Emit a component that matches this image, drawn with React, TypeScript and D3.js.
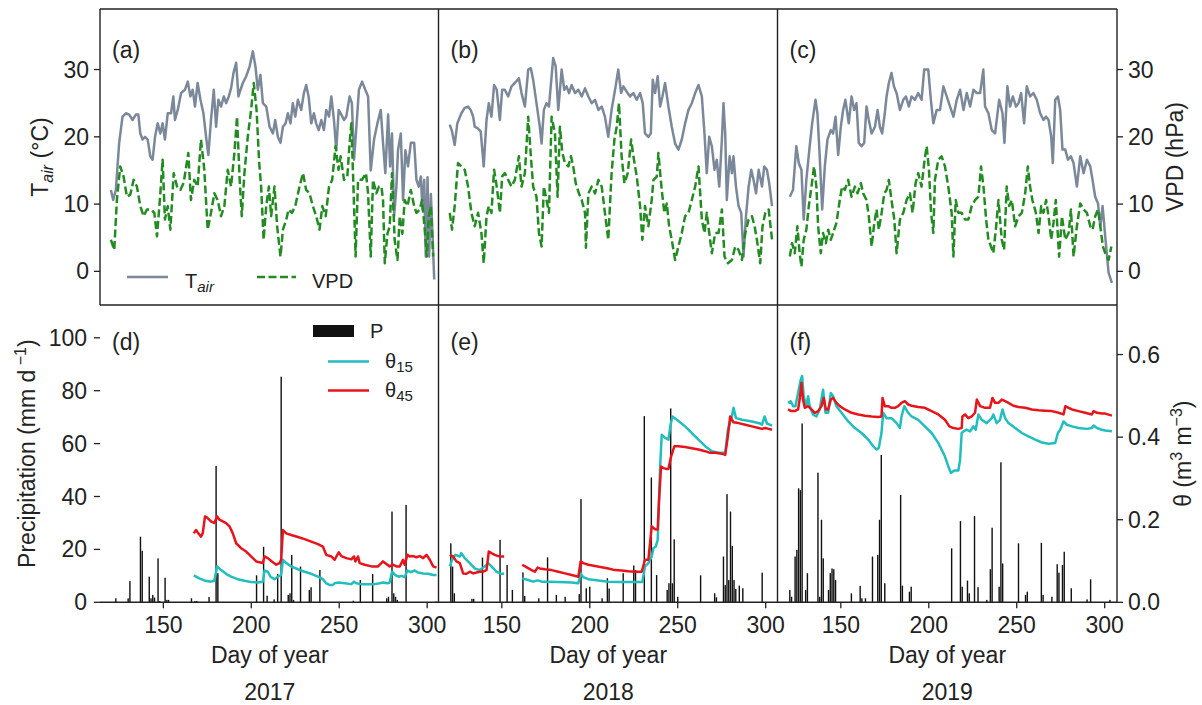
import React from 'react';
import * as d3 from 'd3';

type P = [number, number];

// ---------- labels / ticks ----------
const years = ['2017', '2018', '2019'];
const topLabels = ['(a)', '(b)', '(c)'];
const bottomLabels = ['(d)', '(e)', '(f)'];
const tempTicks = [0, 10, 20, 30];
const precipTicks = [0, 20, 40, 60, 80, 100];
const thetaTicks = [0, 0.2, 0.4, 0.6];
const dayTicks = [150, 200, 250, 300];

// ---------- air temperature (°C) [day, value] ----------
const tair2017: P[] = [[120.2,12.1],[121.5,10.6],[123.0,12.1],[124.9,19.1],[126.8,23.0],[128.7,23.5],[130.6,23.3],[132.5,22.5],[134.4,23.3],[135.8,23.3],[136.9,20.5],[138.2,19.6],[139.6,20.0],[141.1,19.6],[142.6,17.1],[143.9,16.6],[145.3,20.0],[146.8,22.0],[148.3,20.5],[149.6,22.0],[150.9,19.6],[152.5,23.5],[154.4,23.5],[155.7,26.0],[156.6,22.5],[158.2,24.0],[160.1,26.5],[162.3,27.0],[163.9,28.2],[165.4,26.0],[166.7,27.0],[168.0,24.5],[169.5,28.0],[171.1,25.5],[172.8,23.5],[174.3,20.0],[175.6,17.3],[177.1,22.5],[178.7,27.0],[180.0,21.5],[181.3,25.5],[182.8,24.5],[184.4,26.0],[185.7,25.0],[187.2,26.0],[188.5,27.2],[189.9,29.5],[191.4,31.0],[192.7,26.0],[193.9,27.0],[195.2,28.0],[197.1,29.0],[199.0,30.4],[200.9,32.7],[202.4,30.4],[203.7,27.0],[205.2,29.2],[206.6,25.0],[208.5,24.5],[210.4,21.5],[212.3,20.5],[213.6,22.5],[215.1,20.0],[216.6,19.1],[218.0,21.5],[219.5,22.0],[220.8,23.5],[222.3,22.0],[223.6,25.0],[225.0,23.0],[226.5,25.5],[228.4,24.0],[229.9,26.5],[231.2,27.7],[232.6,26.0],[234.1,22.0],[235.6,23.5],[236.9,22.0],[238.3,21.0],[239.8,22.5],[241.3,21.0],[242.6,24.0],[244.2,23.0],[245.5,26.0],[247.0,22.5],[248.3,18.0],[249.7,24.0],[251.2,23.3],[252.7,22.5],[254.0,23.0],[255.9,26.0],[257.2,25.0],[258.4,16.6],[259.9,22.0],[261.2,27.0],[263.0,28.2],[264.8,27.0],[266.4,26.0],[267.9,15.0],[269.8,19.6],[271.7,22.0],[273.6,24.0],[274.9,19.1],[276.2,14.6],[277.8,23.3],[278.9,15.6],[280.0,20.5],[281.2,8.2],[282.5,12.6],[283.4,18.0],[285.0,20.5],[286.3,10.6],[287.6,18.0],[289.1,15.6],[290.7,19.1],[292.6,19.1],[293.9,13.6],[295.2,12.6],[296.4,14.1],[297.3,9.2],[298.3,13.6],[299.2,2.2],[300.2,14.0],[301.1,2.2],[302.1,11.5],[303.0,5.6],[304.0,-1.2]];
const tair2018: P[] = [[120.4,21.8],[121.7,20.8],[123.2,18.8],[124.7,22.0],[127.0,23.5],[128.9,24.3],[130.8,24.5],[132.3,24.0],[133.7,23.0],[134.6,21.5],[136.1,21.3],[138.0,20.8],[139.7,15.6],[141.3,22.5],[142.6,25.0],[144.1,23.0],[145.6,27.7],[147.1,27.0],[148.9,22.5],[150.2,27.0],[151.7,27.0],[153.6,26.0],[155.5,27.5],[157.4,28.0],[159.7,28.7],[161.2,26.5],[163.1,24.5],[165.0,30.0],[166.5,30.2],[167.8,28.5],[169.7,25.0],[171.6,21.5],[172.6,19.0],[173.9,24.0],[175.4,25.0],[176.8,24.5],[179.2,31.7],[180.6,30.5],[182.1,24.0],[184.0,30.0],[185.5,27.0],[186.8,27.5],[188.2,26.5],[189.7,27.7],[191.6,26.5],[193.5,27.0],[195.4,26.0],[197.3,27.2],[199.2,26.0],[201.1,25.0],[203.0,25.5],[204.9,24.0],[206.8,24.5],[208.6,23.0],[210.5,20.0],[212.4,24.0],[214.7,27.5],[216.2,30.0],[217.8,26.5],[219.1,27.5],[221.0,26.7],[222.9,26.0],[224.8,26.5],[226.7,25.5],[228.6,26.5],[230.1,25.0],[231.4,20.5],[233.3,20.0],[234.7,20.5],[235.8,28.5],[237.1,26.5],[238.6,29.0],[240.0,24.5],[241.3,26.0],[242.8,28.0],[244.7,24.5],[246.6,21.5],[248.5,19.0],[250.4,18.1],[252.3,19.6],[254.2,22.0],[256.1,24.0],[258.0,25.0],[259.9,26.5],[261.8,27.7],[263.7,26.0],[265.2,20.5],[266.5,14.6],[267.9,20.0],[269.4,18.6],[270.9,15.1],[272.2,16.6],[273.6,12.6],[275.1,19.6],[276.0,25.0],[277.0,20.5],[277.9,10.6],[279.5,17.1],[280.8,14.6],[281.7,17.1],[283.1,12.6],[284.6,9.7],[286.1,8.7],[287.4,2.2],[288.8,8.2],[290.3,12.6],[291.8,15.1],[293.1,13.6],[294.5,11.6],[296.0,15.1],[297.9,12.6],[299.2,15.6],[300.7,15.1],[302.0,13.1],[303.6,9.7]];
const tair2019: P[] = [[121.0,11.1],[122.8,12.1],[124.7,18.6],[126.1,16.1],[127.6,15.1],[128.9,7.7],[130.4,13.6],[132.3,18.6],[133.7,22.0],[135.6,25.5],[136.7,23.5],[138.0,17.1],[139.4,9.2],[140.9,15.6],[142.4,19.6],[144.3,21.0],[145.6,20.5],[147.0,23.0],[148.5,17.3],[150.0,21.5],[151.3,24.0],[152.6,25.5],[154.5,22.0],[156.1,26.0],[157.6,24.0],[158.9,25.0],[160.2,19.1],[161.8,18.6],[163.3,19.1],[164.6,24.5],[165.9,22.5],[167.5,20.5],[169.4,21.5],[170.9,24.0],[172.2,21.5],[173.5,20.5],[175.0,23.5],[176.0,26.0],[177.3,28.0],[178.8,29.5],[180.2,27.5],[181.7,26.5],[183.6,24.0],[185.5,25.5],[187.0,26.0],[188.7,24.5],[190.2,26.0],[192.1,25.5],[194.0,26.5],[195.9,25.5],[197.4,30.0],[199.7,30.0],[201.2,25.5],[202.6,22.0],[204.5,24.0],[206.4,24.0],[208.3,27.5],[210.2,26.0],[212.1,24.5],[214.0,23.0],[215.9,25.5],[217.8,27.0],[219.7,24.0],[221.6,26.5],[223.5,24.5],[225.4,27.0],[227.3,26.5],[229.2,26.5],[231.0,30.0],[232.0,24.5],[233.9,23.5],[235.8,21.0],[237.7,20.5],[240.0,25.5],[241.9,23.5],[243.0,19.1],[244.7,27.5],[246.2,24.5],[247.8,26.0],[249.6,24.5],[251.0,25.0],[252.5,26.5],[254.2,22.0],[255.7,27.5],[257.6,26.0],[259.5,26.5],[261.4,25.5],[263.3,23.5],[265.2,22.5],[266.7,23.0],[268.1,22.5],[269.6,20.0],[270.5,16.1],[271.9,25.5],[273.4,26.0],[274.7,24.0],[276.0,18.1],[277.6,18.1],[279.1,16.6],[280.8,17.1],[282.3,16.1],[284.2,12.6],[286.1,17.1],[288.0,14.6],[289.9,16.6],[291.8,15.6],[293.1,13.6],[294.6,11.1],[296.2,10.1],[297.5,6.7],[298.8,9.7],[300.3,5.2],[302.2,-0.2],[304.1,-1.7]];

// ---------- vapour pressure deficit (hPa) [day, value] ----------
const vpd2017: P[] = [[120.2,4.7],[122.1,3.2],[123.6,10.6],[125.5,15.6],[127.4,14.1],[129.3,11.1],[131.2,11.4],[133.1,13.6],[135.0,12.6],[136.9,9.7],[138.8,8.2],[140.7,9.2],[143.0,9.2],[144.9,8.7],[146.4,5.2],[148.3,11.6],[149.6,16.6],[150.9,7.7],[152.5,9.7],[154.0,6.2],[155.9,14.6],[157.8,12.6],[159.7,12.1],[161.6,13.2],[164.2,17.6],[165.7,10.6],[167.6,13.6],[169.5,12.6],[171.4,19.6],[173.3,15.1],[175.2,6.2],[177.1,8.7],[179.0,11.6],[180.9,10.6],[182.8,8.2],[184.7,9.7],[186.6,15.1],[188.5,12.6],[190.4,17.6],[191.9,23.0],[193.3,14.1],[194.6,8.2],[196.1,14.6],[198.0,20.0],[199.9,24.0],[201.4,28.0],[203.0,24.0],[204.5,16.1],[205.6,12.6],[207.0,4.7],[208.5,9.7],[210.0,12.6],[211.3,8.2],[213.2,12.6],[214.7,6.7],[216.6,2.2],[218.0,6.2],[219.9,7.7],[221.2,9.2],[223.1,8.7],[225.0,9.7],[227.4,12.6],[229.4,14.6],[231.2,12.1],[233.1,11.6],[235.0,9.7],[236.9,8.2],[238.8,6.2],[240.4,9.7],[242.3,8.2],[244.2,12.6],[246.0,13.6],[247.9,18.6],[249.6,15.1],[250.8,17.1],[252.7,13.6],[254.6,14.1],[255.9,19.1],[256.9,22.0],[258.0,13.2],[259.3,2.2],[260.7,13.6],[262.9,13.6],[265.2,14.6],[266.4,11.6],[267.9,2.2],[269.2,13.6],[271.1,11.6],[272.6,12.6],[274.0,12.6],[274.9,10.6],[275.9,1.2],[277.4,5.6],[278.7,6.7],[280.0,14.6],[281.5,4.7],[283.1,1.7],[284.4,8.2],[285.9,5.6],[287.2,10.6],[288.8,9.7],[290.7,12.1],[292.6,9.7],[293.9,8.7],[295.8,9.2],[297.1,10.6],[298.6,6.2],[299.8,2.2],[300.9,8.2],[302.1,9.7],[303.4,2.2]];
const vpd2018: P[] = [[120.4,8.7],[121.7,6.2],[123.2,9.7],[125.1,16.1],[127.0,15.6],[128.9,15.1],[130.8,12.6],[132.7,8.7],[134.6,6.7],[136.5,8.7],[138.4,5.7],[139.7,1.2],[141.3,8.2],[142.6,9.7],[144.1,8.7],[145.6,15.1],[147.1,12.6],[148.9,8.7],[150.2,14.1],[151.7,14.6],[153.6,13.6],[155.5,12.6],[157.4,13.6],[159.7,17.1],[161.2,12.6],[163.1,14.6],[165.0,23.0],[166.5,17.1],[167.8,12.6],[169.7,11.1],[171.1,5.7],[172.6,3.7],[173.9,12.6],[175.4,10.6],[176.8,8.7],[178.3,23.0],[180.2,20.5],[181.7,11.1],[183.0,21.5],[184.4,17.6],[185.9,16.1],[187.8,15.6],[189.3,17.1],[190.6,15.6],[192.0,13.1],[193.8,11.6],[195.4,10.6],[197.3,8.7],[197.8,3.5],[199.2,11.6],[201.1,12.6],[203.0,11.6],[204.9,13.6],[206.8,12.6],[208.6,8.7],[210.5,4.7],[212.4,14.6],[214.0,19.6],[215.3,21.5],[216.6,25.0],[218.1,17.1],[219.7,13.1],[221.6,14.6],[223.5,19.6],[224.8,17.1],[226.7,14.1],[228.6,9.7],[229.9,4.7],[231.4,9.7],[233.3,6.7],[235.2,10.6],[236.2,13.6],[238.1,14.1],[239.0,17.6],[240.9,12.1],[242.4,8.7],[243.8,10.1],[245.1,6.7],[246.6,4.7],[248.5,1.7],[250.4,3.7],[252.3,5.7],[254.2,8.2],[256.1,8.7],[258.0,10.6],[259.9,12.6],[261.8,15.6],[263.7,7.7],[265.2,5.7],[266.5,8.7],[267.9,5.7],[269.4,2.7],[271.3,5.7],[273.2,5.7],[275.1,9.2],[276.6,2.2],[278.5,1.2],[280.8,1.7],[282.7,3.7],[284.6,3.2],[286.5,1.7],[288.4,5.7],[290.3,7.7],[292.2,8.2],[293.7,6.7],[295.0,4.7],[296.9,1.2],[298.2,6.7],[299.8,8.7],[301.7,9.2],[303.6,4.7]];
const vpd2019: P[] = [[121.0,2.2],[122.3,4.2],[123.8,2.7],[125.3,6.7],[126.6,2.7],[127.6,0.7],[128.9,4.7],[130.4,6.2],[131.8,9.7],[133.3,12.6],[134.8,15.6],[136.1,12.6],[137.1,6.7],[138.6,2.7],[139.9,5.7],[141.5,4.2],[142.8,6.2],[144.3,4.7],[145.6,5.7],[147.5,7.2],[149.4,10.6],[150.7,12.6],[152.3,12.1],[154.2,13.6],[156.1,11.1],[158.0,12.6],[159.5,11.6],[161.4,13.1],[162.7,11.6],[164.6,10.6],[165.9,8.2],[167.5,3.7],[168.8,6.7],[170.3,9.2],[171.6,6.2],[173.2,8.7],[174.7,11.6],[176.0,12.1],[177.3,13.6],[178.8,10.6],[180.4,7.7],[181.7,2.7],[183.6,7.7],[185.5,8.7],[187.4,10.6],[189.3,11.6],[190.8,8.7],[192.5,13.1],[194.0,14.6],[195.9,12.6],[197.4,16.1],[198.8,18.6],[200.1,15.1],[201.3,8.7],[202.6,5.7],[203.5,13.6],[205.4,16.6],[207.3,17.1],[209.2,15.6],[211.1,12.6],[213.0,8.7],[214.0,2.2],[215.3,10.6],[216.8,8.7],[218.7,8.7],[220.6,7.7],[222.5,7.7],[224.4,9.7],[226.3,10.6],[228.2,11.1],[229.7,15.6],[231.1,12.6],[232.6,7.7],[233.9,4.7],[235.4,3.7],[236.7,2.7],[238.3,6.7],[239.6,10.6],[241.5,4.7],[242.8,3.2],[244.3,12.6],[245.7,9.7],[247.2,10.6],[249.1,6.7],[251.0,8.2],[252.9,8.7],[254.8,11.6],[256.3,15.6],[257.6,12.6],[258.9,10.6],[260.9,8.7],[262.4,5.7],[263.9,9.7],[265.2,8.7],[266.7,10.6],[268.1,8.2],[269.6,4.7],[270.9,7.2],[272.2,10.6],[274.1,2.2],[275.7,8.2],[277.6,4.7],[279.5,5.7],[280.8,9.2],[282.3,2.2],[284.2,6.7],[286.1,10.1],[288.0,9.2],[289.9,8.7],[291.8,6.7],[293.1,6.2],[294.6,8.2],[296.2,9.2],[297.5,6.7],[299.0,3.7],[300.3,2.7],[302.2,1.7],[303.8,3.7]];

// ---------- precipitation (mm d-1) [day, value] ----------
const precip2017: P[] = [[123,1.5],[130,1.5],[131,8.0],[137,24.8],[138,19.5],[142,9.7],[143,1.5],[144,2.8],[145,1.8],[147,16.6],[148,0.5],[151,9.3],[152,0.9],[153,0.9],[166,1.5],[168,0.5],[169,0.5],[176,2.0],[180,51.6],[181,11.0],[203,10.2],[207,21.0],[209,2.5],[213,1.1],[215,10.7],[217,85.3],[221,2.8],[222,3.4],[223,17.9],[224,0.9],[228,13.5],[233,4.7],[234,5.7],[239,12.2],[258,0.6],[262,8.4],[269,10.7],[277,1.5],[278,2.1],[280,34.3],[281,3.4],[282,2.1],[283,0.9],[288,36.8],[305,0.3]];
const precip2018: P[] = [[121,22.3],[122,13.5],[123,3.4],[133,1.3],[134,1.3],[139,16.9],[149,23.6],[153,14.1],[156,4.7],[162,11.3],[163,2.4],[171,1.5],[176,17.0],[181,2.8],[186,2.1],[194,3.1],[195,39.0],[198,5.3],[200,5.9],[207,1.5],[210,9.1],[211,5.2],[219,11.0],[225,13.9],[226,12.2],[231,70.4],[235,47.2],[238,10.3],[244,4.7],[245,7.2],[246,73.3],[247,7.2],[248,23.8],[250,2.1],[263,10.2],[271,3.4],[272,1.9],[276,17.3],[277,6.5],[278,40.9],[279,8.4],[280,34.3],[281,21.3],[282,8.4],[283,5.0],[285,6.3],[287,5.3],[298,11.2]];
const precip2019: P[] = [[121,4.7],[122,2.1],[124,17.3],[125,19.8],[126,43.1],[127,42.4],[128,67.6],[130,4.7],[131,11.0],[137,49.0],[138,2.1],[139,31.2],[140,16.6],[143,4.7],[144,11.0],[145,12.8],[146,12.5],[147,8.4],[156,3.4],[161,6.2],[162,1.5],[164,1.5],[168,17.3],[171,17.9],[172,31.2],[173,55.7],[175,7.2],[184,40.6],[185,6.3],[189,4.0],[190,5.9],[213,20.4],[218,30.7],[219,5.9],[222,8.2],[223,3.4],[226,32.6],[228,5.7],[233,0.9],[235,12.5],[236,28.2],[240,5.9],[241,52.9],[242,14.7],[251,22.3],[255,2.8],[256,4.0],[264,22.5],[265,2.8],[270,2.1],[273,14.4],[274,11.2],[276,14.1],[277,19.1],[281,5.3],[290,1.1],[292,8.7],[303,0.9]];

// ---------- soil water content θ (m3 m-3) at 15 and 45 cm ----------
const theta15_2017: P[] = [[167.3,0.065],[170.5,0.058],[173.3,0.053],[177.1,0.050],[179.0,0.052],[180.6,0.087],[182.8,0.078],[185.7,0.069],[188.5,0.062],[192.3,0.056],[196.1,0.052],[199.9,0.049],[203.7,0.048],[206.6,0.050],[207.5,0.077],[209.4,0.074],[210.9,0.062],[213.2,0.056],[215.1,0.062],[217.0,0.066],[218.0,0.103],[219.9,0.095],[222.7,0.087],[226.5,0.080],[230.3,0.074],[234.1,0.069],[237.9,0.062],[240.7,0.056],[242.6,0.046],[244.5,0.042],[246.4,0.042],[247.4,0.046],[249.7,0.048],[253.1,0.046],[256.9,0.044],[258.4,0.050],[259.7,0.046],[262.6,0.044],[266.4,0.044],[270.2,0.044],[273.0,0.046],[274.9,0.048],[277.4,0.046],[278.7,0.048],[280.0,0.074],[281.9,0.066],[283.8,0.062],[285.3,0.064],[287.2,0.061],[288.8,0.077],[290.7,0.073],[292.9,0.077],[294.8,0.072],[297.7,0.070],[300.5,0.069],[303.4,0.066],[305.3,0.066]];
const theta45_2017: P[] = [[167.3,0.167],[168.6,0.175],[169.9,0.167],[171.4,0.159],[172.4,0.167],[173.7,0.208],[175.2,0.204],[177.1,0.196],[179.0,0.192],[180.6,0.208],[181.9,0.200],[183.8,0.196],[185.7,0.192],[187.6,0.184],[189.5,0.167],[191.4,0.143],[194.2,0.131],[197.1,0.123],[199.9,0.111],[202.8,0.099],[206.6,0.095],[207.5,0.111],[209.4,0.107],[211.7,0.099],[214.2,0.091],[216.1,0.095],[217.0,0.103],[218.0,0.175],[219.9,0.167],[222.7,0.163],[226.5,0.158],[230.3,0.153],[234.1,0.147],[237.9,0.141],[240.7,0.135],[242.6,0.115],[245.5,0.111],[247.4,0.103],[249.7,0.121],[251.2,0.112],[254.0,0.107],[256.9,0.104],[258.4,0.111],[259.2,0.099],[260.7,0.111],[261.6,0.095],[264.5,0.091],[268.3,0.087],[272.1,0.087],[274.9,0.099],[276.8,0.093],[278.7,0.087],[280.6,0.091],[282.5,0.087],[284.4,0.087],[286.3,0.103],[287.2,0.091],[288.8,0.115],[290.1,0.111],[292.0,0.112],[293.9,0.109],[295.8,0.112],[297.7,0.107],[299.6,0.115],[301.5,0.103],[303.4,0.087],[305.3,0.084]];
const theta15_2018: P[] = [[120.4,0.087],[121.7,0.103],[123.6,0.115],[126.1,0.111],[127.0,0.119],[128.9,0.107],[131.8,0.095],[134.6,0.082],[137.5,0.078],[140.3,0.087],[142.2,0.095],[144.1,0.087],[147.0,0.074],[149.8,0.069],[151.3,0.069],[156,NaN],[161.6,0.058],[165.0,0.054],[167.8,0.050],[170.3,0.053],[172.6,0.050],[176.4,0.050],[182.1,0.049],[189.7,0.048],[193.5,0.046],[194.8,0.070],[196.3,0.061],[199.2,0.056],[204.9,0.053],[210.5,0.050],[216.2,0.049],[221.9,0.049],[227.6,0.049],[229.9,0.049],[231.4,0.087],[233.3,0.095],[235.2,0.111],[236.2,0.131],[237.5,0.135],[238.6,0.151],[240.0,0.329],[240.9,0.406],[242.8,0.398],[244.7,0.394],[245.9,0.430],[247.0,0.450],[249.5,0.442],[254.2,0.426],[259.9,0.402],[265.6,0.378],[269.4,0.366],[273.2,0.362],[277.0,0.362],[278.5,0.418],[280.8,0.450],[281.7,0.471],[283.1,0.446],[286.5,0.442],[292.2,0.438],[296.9,0.433],[297.9,0.430],[299.4,0.450],[300.7,0.433],[303.6,0.428]];
const theta45_2018: P[] = [[120.4,0.115],[122.3,0.111],[124.2,0.099],[126.1,0.095],[128.0,0.070],[129.9,0.069],[131.8,0.074],[133.7,0.070],[135.6,0.072],[137.5,0.074],[139.4,0.074],[141.3,0.078],[142.6,0.123],[144.1,0.119],[146.0,0.115],[147.9,0.112],[149.8,0.111],[151.3,0.111],[156,NaN],[161.6,0.091],[164.0,0.085],[166.9,0.078],[168.8,0.074],[170.3,0.084],[171.6,0.082],[174.5,0.080],[178.3,0.078],[182.1,0.074],[185.9,0.070],[189.7,0.066],[193.5,0.062],[194.8,0.099],[196.3,0.095],[199.2,0.091],[203.0,0.088],[206.8,0.085],[210.5,0.082],[214.3,0.078],[218.1,0.077],[221.9,0.075],[225.7,0.074],[229.5,0.074],[231.4,0.103],[233.3,0.103],[235.2,0.184],[237.1,0.177],[238.6,0.176],[239.4,0.248],[240.5,0.329],[241.9,0.325],[243.8,0.323],[244.7,0.323],[246.2,0.353],[248.1,0.378],[250.4,0.378],[254.2,0.376],[258.0,0.373],[261.8,0.370],[265.6,0.366],[268.4,0.362],[271.3,0.362],[275.1,0.360],[277.0,0.357],[278.5,0.402],[279.8,0.450],[281.7,0.436],[284.6,0.434],[288.4,0.430],[292.2,0.426],[296.0,0.422],[297.9,0.420],[299.8,0.422],[301.7,0.420],[303.6,0.418]];
const theta15_2019: P[] = [[120.0,0.483],[121.5,0.487],[122.9,0.475],[124.2,0.475],[125.7,0.507],[127.2,0.539],[128.0,0.548],[128.9,0.499],[130.4,0.475],[131.4,0.499],[132.3,0.475],[134.2,0.455],[136.1,0.450],[138.0,0.467],[139.9,0.515],[141.3,0.459],[142.8,0.459],[144.3,0.507],[145.6,0.499],[147.5,0.475],[150.4,0.459],[154.2,0.438],[158.0,0.422],[161.8,0.410],[165.6,0.394],[168.4,0.378],[170.3,0.370],[171.6,0.374],[173.1,0.410],[174.1,0.459],[176.0,0.446],[178.8,0.446],[181.7,0.434],[183.6,0.422],[184.5,0.450],[186.1,0.475],[188.3,0.459],[190.2,0.450],[194.0,0.442],[197.8,0.426],[201.6,0.410],[205.4,0.386],[209.2,0.353],[211.1,0.329],[212.6,0.313],[214.5,0.319],[216.8,0.319],[217.8,0.345],[218.7,0.410],[219.7,0.414],[221.5,0.418],[223.5,0.414],[225.3,0.426],[226.7,0.418],[228.2,0.455],[230.1,0.442],[232.9,0.434],[235.8,0.446],[236.7,0.455],[238.6,0.434],[240.5,0.442],[241.9,0.467],[243.4,0.446],[245.3,0.434],[249.1,0.422],[252.9,0.410],[256.7,0.402],[260.5,0.394],[264.3,0.387],[268.1,0.384],[271.9,0.386],[273.4,0.410],[274.7,0.418],[276.6,0.438],[278.5,0.430],[281.4,0.426],[285.1,0.422],[289.9,0.420],[292.7,0.422],[293.7,0.428],[295.6,0.422],[298.4,0.418],[300.3,0.416],[304.1,0.414]];
const theta45_2019: P[] = [[120.0,0.467],[121.9,0.463],[123.8,0.463],[125.7,0.467],[126.6,0.491],[127.6,0.531],[128.5,0.491],[129.5,0.471],[131.4,0.475],[133.3,0.467],[135.2,0.459],[137.1,0.463],[139.0,0.475],[140.3,0.495],[141.5,0.467],[142.8,0.467],[144.3,0.491],[145.6,0.495],[147.5,0.483],[149.4,0.475],[152.3,0.467],[156.1,0.459],[159.9,0.455],[163.7,0.452],[167.5,0.450],[171.3,0.449],[173.1,0.450],[173.7,0.495],[175.0,0.475],[176.9,0.475],[178.8,0.471],[180.7,0.471],[182.6,0.475],[184.5,0.483],[186.4,0.487],[188.3,0.479],[190.2,0.476],[194.0,0.473],[197.8,0.471],[201.6,0.463],[205.4,0.455],[209.2,0.442],[211.7,0.426],[214.0,0.422],[216.8,0.420],[218.7,0.422],[219.1,0.450],[220.6,0.455],[222.5,0.446],[224.4,0.450],[226.3,0.459],[227.3,0.491],[229.2,0.475],[232.0,0.471],[234.8,0.471],[236.2,0.495],[237.7,0.483],[239.6,0.483],[241.5,0.491],[243.4,0.487],[245.3,0.483],[248.1,0.476],[251.0,0.473],[254.8,0.471],[258.6,0.467],[262.4,0.465],[266.2,0.464],[270.0,0.463],[273.8,0.459],[276.6,0.455],[277.6,0.475],[279.5,0.471],[281.4,0.467],[285.1,0.463],[288.9,0.459],[292.7,0.455],[293.7,0.463],[295.6,0.459],[298.4,0.457],[300.3,0.457],[304.1,0.452]];

const tairByYear = [tair2017, tair2018, tair2019];
const vpdByYear = [vpd2017, vpd2018, vpd2019];
const precipByYear = [precip2017, precip2018, precip2019];
const theta15ByYear = [theta15_2017, theta15_2018, theta15_2019];
const theta45ByYear = [theta45_2017, theta45_2018, theta45_2019];

// ---------- styling ----------
const C_TAIR = '#7a8899';
const C_VPD = '#228b22';
const C_T15 = '#22bdbd';
const C_T45 = '#e8141b';
const C_AX = '#222';
const FONT = "'Liberation Sans', Arial, Helvetica, sans-serif";
const FS = 23;
const FS_LEG = 20;

const PANEL_X = [100, 438.5, 777.5];
const PANEL_W = 339.5;
const TOP = 9;
const MID = 305;
const BOT = 602.3;

export default function App() {
  const W = 1202;
  const H = 705;

  const yTemp = d3.scaleLinear().domain([-5, 39]).range([MID, TOP]);
  const yPrecip = d3.scaleLinear().domain([0, 112.4]).range([BOT, MID]);
  const yTheta = d3.scaleLinear().domain([0, 0.72]).range([BOT, MID]);

  const panels = years.map((yr, i) => {
    const x = d3.scaleLinear().domain([114, 307]).range([PANEL_X[i], PANEL_X[i] + PANEL_W]);
    const lineTemp = d3.line<P>().x(d => x(d[0])).y(d => yTemp(d[1])).defined(d => !isNaN(d[1]));
    const lineTheta = d3.line<P>().x(d => x(d[0])).y(d => yTheta(d[1])).defined(d => !isNaN(d[1]));
    const x0 = PANEL_X[i];
    return (
      <g key={yr}>
        <clipPath id={`clipTop${i}`}>
          <rect x={x0} y={TOP} width={PANEL_W} height={MID - TOP} />
        </clipPath>
        <clipPath id={`clipBot${i}`}>
          <rect x={x0} y={MID} width={PANEL_W} height={BOT - MID} />
        </clipPath>
        {/* top: Tair and VPD */}
        <g clipPath={`url(#clipTop${i})`}>
          <path d={lineTemp(tairByYear[i]) || ''} fill="none" stroke={C_TAIR} strokeWidth={2.5} strokeLinejoin="round" />
          <path d={lineTemp(vpdByYear[i]) || ''} fill="none" stroke={C_VPD} strokeWidth={2.5} strokeDasharray="8,3.5" strokeLinejoin="round" />
        </g>
        {/* bottom: precipitation bars + theta */}
        <g clipPath={`url(#clipBot${i})`}>
          {precipByYear[i].map((d, k) => {
            const xa = x(d[0] - 0.4);
            const xb = x(d[0] + 0.4);
            return <rect key={k} x={xa} width={Math.max(1.2, xb - xa)} y={yPrecip(d[1])} height={BOT - yPrecip(d[1])} fill="#111" />;
          })}
          <path d={lineTheta(theta15ByYear[i]) || ''} fill="none" stroke={C_T15} strokeWidth={2.5} strokeLinejoin="round" />
          <path d={lineTheta(theta45ByYear[i]) || ''} fill="none" stroke={C_T45} strokeWidth={2.5} strokeLinejoin="round" />
        </g>
        {/* x ticks */}
        {dayTicks.map(t => (
          <g key={t}>
            <line x1={x(t)} x2={x(t)} y1={BOT} y2={BOT + 6} stroke={C_AX} strokeWidth={1.3} />
            <text x={x(t)} y={633} textAnchor="middle" fontSize={FS} fill={C_AX}>{t}</text>
          </g>
        ))}
        <text x={x0 + PANEL_W / 2} y={662.5} textAnchor="middle" fontSize={FS} fill={C_AX}>Day of year</text>
        <text x={x0 + PANEL_W / 2} y={700} textAnchor="middle" fontSize={FS} fill={C_AX}>{yr}</text>
        <text x={x0 + 12} y={58} fontSize={FS} fill={C_AX}>{topLabels[i]}</text>
        <text x={x0 + 12} y={350} fontSize={FS} fill={C_AX}>{bottomLabels[i]}</text>
      </g>
    );
  });

  const xRight = PANEL_X[2] + PANEL_W;

  return (
    <svg width={W} height={H} viewBox={`0 0 ${W} ${H}`} style={{ position: 'absolute', left: 0, top: 0, background: '#fff' }} fontFamily={FONT}>
      <rect x={0} y={0} width={W} height={H} fill="#fff" />
      {panels}

      {/* frames */}
      <g stroke={C_AX} strokeWidth={1.4} fill="none">
        <line x1={PANEL_X[0]} x2={xRight} y1={TOP} y2={TOP} />
        <line x1={PANEL_X[0]} x2={xRight} y1={MID} y2={MID} />
        <line x1={PANEL_X[0]} x2={xRight} y1={BOT} y2={BOT} />
        <line x1={PANEL_X[0]} x2={PANEL_X[0]} y1={TOP} y2={MID} />
        <line x1={PANEL_X[1]} x2={PANEL_X[1]} y1={TOP} y2={BOT} />
        <line x1={PANEL_X[2]} x2={PANEL_X[2]} y1={TOP} y2={BOT} />
        <line x1={xRight} x2={xRight} y1={TOP} y2={BOT} />
      </g>

      {/* left top axis: Tair */}
      {tempTicks.map(t => (
        <g key={'lt' + t}>
          <line x1={PANEL_X[0] - 6} x2={PANEL_X[0]} y1={yTemp(t)} y2={yTemp(t)} stroke={C_AX} strokeWidth={1.3} />
          <text x={PANEL_X[0] - 11} y={yTemp(t)} dy="0.35em" textAnchor="end" fontSize={FS} fill={C_AX}>{t}</text>
        </g>
      ))}
      {/* right top axis: VPD */}
      {tempTicks.map(t => (
        <g key={'rt' + t}>
          <line x1={xRight} x2={xRight + 6} y1={yTemp(t)} y2={yTemp(t)} stroke={C_AX} strokeWidth={1.3} />
          <text x={xRight + 11} y={yTemp(t)} dy="0.35em" textAnchor="start" fontSize={FS} fill={C_AX}>{t}</text>
        </g>
      ))}
      {/* left bottom axis: precipitation */}
      {precipTicks.map(t => (
        <g key={'lb' + t}>
          <line x1={PANEL_X[0] - 6} x2={PANEL_X[0]} y1={yPrecip(t)} y2={yPrecip(t)} stroke={C_AX} strokeWidth={1.3} />
          <text x={PANEL_X[0] - 13} y={yPrecip(t)} dy="0.35em" textAnchor="end" fontSize={FS} fill={C_AX}>{t}</text>
        </g>
      ))}
      {/* right bottom axis: theta */}
      {thetaTicks.map(t => (
        <g key={'rb' + t}>
          <line x1={xRight} x2={xRight + 6} y1={yTheta(t)} y2={yTheta(t)} stroke={C_AX} strokeWidth={1.3} />
          <text x={xRight + 11} y={yTheta(t)} dy="0.35em" textAnchor="start" fontSize={FS} fill={C_AX}>{t.toFixed(1)}</text>
        </g>
      ))}

      {/* axis titles */}
      <text transform={`translate(48,${(TOP + MID) / 2}) rotate(-90)`} textAnchor="middle" fontSize={FS} fill={C_AX}>
        T<tspan fontSize={16} fontStyle="italic" dy={5}>air</tspan><tspan dy={-5}> (°C)</tspan>
      </text>
      <text transform={`translate(1183,${(TOP + MID) / 2}) rotate(-90)`} textAnchor="middle" fontSize={FS} fill={C_AX}>VPD (hPa)</text>
      <text transform={`translate(35,${(MID + BOT) / 2}) rotate(-90)`} textAnchor="middle" fontSize={FS} fill={C_AX}>
        Precipitation (mm d<tspan fontSize={16} dy={-9}> −1</tspan><tspan dy={9}>)</tspan>
      </text>
      <text transform={`translate(1191,${(MID + BOT) / 2}) rotate(-90)`} textAnchor="middle" fontSize={FS} fill={C_AX}>
        θ (m<tspan fontSize={16} dy={-9}>3</tspan><tspan dy={9}> m</tspan><tspan fontSize={16} dy={-9}>−3</tspan><tspan dy={9}>)</tspan>
      </text>

      {/* legend top */}
      <line x1={127} x2={168} y1={277} y2={277} stroke={C_TAIR} strokeWidth={2.5} />
      <text x={185} y={288} fontSize={FS_LEG} fill={C_AX}>
        T<tspan fontSize={15} fontStyle="italic" dy={4}>air</tspan>
      </text>
      <line x1={257} x2={296} y1={277} y2={277} stroke={C_VPD} strokeWidth={2.5} strokeDasharray="8,3.5" />
      <text x={312} y={288} fontSize={FS_LEG} fill={C_AX}>VPD</text>

      {/* legend bottom */}
      <rect x={313} y={325} width={41} height={12} fill="#111" />
      <text x={370} y={338} fontSize={FS_LEG} fill={C_AX}>P</text>
      <line x1={328} x2={369} y1={361.5} y2={361.5} stroke={C_T15} strokeWidth={2.5} />
      <text x={385} y={368} fontSize={FS_LEG} fill={C_AX}>
        θ<tspan fontSize={15} dy={4}>15</tspan>
      </text>
      <line x1={328} x2={369} y1={390.5} y2={390.5} stroke={C_T45} strokeWidth={2.5} />
      <text x={385} y={397} fontSize={FS_LEG} fill={C_AX}>
        θ<tspan fontSize={15} dy={4}>45</tspan>
      </text>
    </svg>
  );
}
